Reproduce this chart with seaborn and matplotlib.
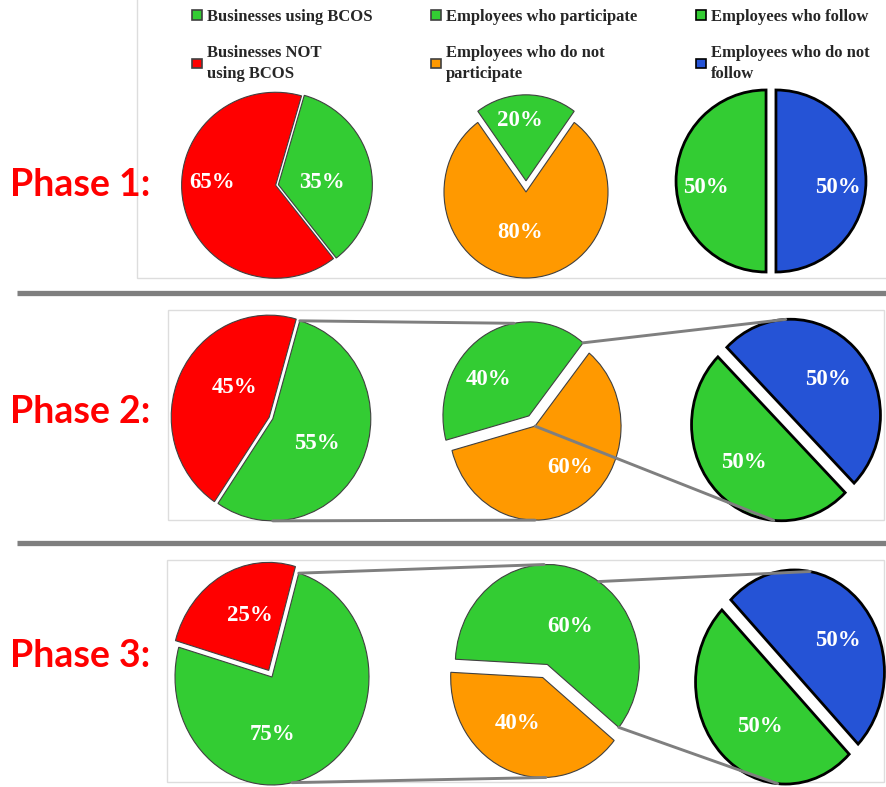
import numpy as np
import matplotlib
matplotlib.use("Agg")
import matplotlib.pyplot as plt
from matplotlib.patches import Patch, Rectangle, ConnectionPatch
import seaborn as sns

sns.set_style("white")

# ---- data ----
phases = ["Phase 1:", "Phase 2:", "Phase 3:"]
using_bcos = [35, 55, 75]
not_using_bcos = [65, 45, 25]
participate = [20, 40, 60]
not_participate = [80, 60, 40]
follow = [50, 50, 50]
not_follow = [50, 50, 50]

legend_labels = ["Businesses using BCOS", "Businesses NOT\nusing BCOS",
                 "Employees who participate", "Employees who do not\nparticipate",
                 "Employees who follow", "Employees who do not\nfollow"]

RED, GREEN, ORANGE, BLUE = "#ff0000", "#33cc33", "#ff9900", "#2553d6"
GRAY = "#7f7f7f"
THIN = "#404040"

W, H = 886, 787
fig = plt.figure(figsize=(W / 100, H / 100), dpi=100)

# background axes in pixel units for frames, separators, phase titles
bg = fig.add_axes([0, 0, 1, 1])
bg.set_xlim(0, W)
bg.set_ylim(H, 0)
bg.axis("off")

for (x0, y0, x1, y1) in [(137, -2, 888, 278), (168, 310, 884, 520), (167, 560, 884, 782)]:
    bg.add_patch(Rectangle((x0, y0), x1 - x0, y1 - y0, fill=False,
                           edgecolor="#dddddd", lw=1))
for ysep in [293, 543]:
    bg.plot([17, W], [ysep, ysep], color=GRAY, lw=3.8, solid_capstyle="butt")

for title, ty in zip(phases, [185, 412, 656]):
    bg.text(10, ty, title, color="red", fontsize=27, fontweight="bold",
            family="Lato", va="center", ha="left")


def draw_pie(geom, values, colors, start, explode, edge, lw, label_xy):
    cx, cy, rx, ry = geom
    # one axes per pie, stretched so the circle becomes the ellipse
    ax = fig.add_axes([(cx - 1.25 * rx) / W, 1 - (cy + 1.25 * ry) / H,
                       2.5 * rx / W, 2.5 * ry / H])
    wedges, texts, autotexts = ax.pie(
        values, colors=colors, startangle=start, explode=explode,
        autopct="%.0f%%", pctdistance=0.6,
        wedgeprops=dict(edgecolor=edge, linewidth=lw),
        textprops=dict(color="white", fontsize=16.5, fontweight="bold",
                       family="Liberation Serif"))
    for t, xy in zip(autotexts, label_xy):
        t.set_position(xy)
    ax.set_aspect("auto")
    return ax, wedges


def rim(wedge, ang):
    a = np.radians(ang)
    return (wedge.center[0] + wedge.r * np.cos(a), wedge.center[1] + wedge.r * np.sin(a))


def connect(axA, ptA, axB, ptB):
    con = ConnectionPatch(xyA=ptA, coordsA=axA.transData, xyB=ptB, coordsB=axB.transData,
                          color=GRAY, lw=2.1)
    fig.add_artist(con)


# Phase 1
i = 0
draw_pie((277, 185, 94, 93), [not_using_bcos[i], using_bcos[i]], [RED, GREEN], 74,
         [0.015, 0.015], THIN, 0.8, [(-0.69, 0.03), (0.48, 0.03)])
draw_pie((526, 192, 82, 86), [participate[i], not_participate[i]], [GREEN, ORANGE], 54,
         [0.13, 0], THIN, 0.8, [(-0.07, 0.83), (-0.07, -0.47)])
draw_pie((771, 181, 90, 91), [follow[i], not_follow[i]], [GREEN, BLUE], 90,
         [0.055, 0.055], "black", 2, [(-0.72, -0.07), (0.74, -0.07)])

# Phase 2
i = 1
axA, wA = draw_pie((271, 418, 98, 102), [not_using_bcos[i], using_bcos[i]], [RED, GREEN], 74,
                   [0.02, 0.02], THIN, 0.8, [(-0.37, 0.30), (0.47, -0.25)])
axB, wB = draw_pie((532, 421, 86, 94), [participate[i], not_participate[i]], [GREEN, ORANGE], 51,
                   [0.065, 0.065], THIN, 0.8, [(-0.51, 0.44), (0.44, -0.49)])
axC, wC = draw_pie((786, 420, 90, 96), [follow[i], not_follow[i]], [GREEN, BLUE], 135,
                   [0.07, 0.07], "black", 2, [(-0.47, -0.44), (0.46, 0.42)])
connect(axA, rim(wA[1], wA[1].theta2), axB, rim(wB[0], 100))
connect(axA, rim(wA[1], 270), axB, rim(wB[1], 270))
connect(axB, rim(wB[0], wB[0].theta1), axC, rim(wC[1], 93))
connect(axB, wB[1].center, axC, rim(wC[0], 265))

# Phase 3
i = 2
axA, wA = draw_pie((272, 677, 97, 108), [not_using_bcos[i], using_bcos[i]], [RED, GREEN], 74,
                   [0.07, 0], THIN, 0.8, [(-0.23, 0.57), (0.01, -0.53)])
axB, wB = draw_pie((545, 671, 92, 100), [participate[i], not_participate[i]], [GREEN, ORANGE], -39,
                   [0.07, 0.07], THIN, 0.8, [(0.27, 0.45), (-0.30, -0.53)])
axC, wC = draw_pie((790, 677, 90, 102), [follow[i], not_follow[i]], [GREEN, BLUE], 135,
                   [0.07, 0.07], "black", 2, [(-0.33, -0.49), (0.53, 0.36)])
connect(axA, rim(wA[1], wA[1].theta2), axB, rim(wB[0], 92))
connect(axA, rim(wA[1], 282), axB, rim(wB[1], 272))
connect(axB, rim(wB[0], 56), axC, rim(wC[1], 80))
connect(axB, rim(wB[0], wB[0].theta1), axC, rim(wC[0], 265))

# legend
handle_colors = [GREEN, RED, GREEN, ORANGE, GREEN, BLUE]
handle_edges = [THIN, THIN, THIN, THIN, "black", "black"]
handles = [Patch(facecolor=c, edgecolor=e, lw=1.2) for c, e in zip(handle_colors, handle_edges)]
leg = fig.legend(handles, legend_labels, ncol=3, loc="upper left",
                 bbox_to_anchor=(192 / W, 1 - 9 / H), frameon=False,
                 prop=dict(family="Liberation Serif", weight="bold", size=12),
                 handlelength=0.6, handleheight=0.5, handletextpad=0.3,
                 columnspacing=3.5, labelspacing=1.2, borderaxespad=0, borderpad=0)
for t in leg.get_texts():
    t.set_linespacing(1.4)

fig.savefig("out.png", dpi=100, facecolor="white")
